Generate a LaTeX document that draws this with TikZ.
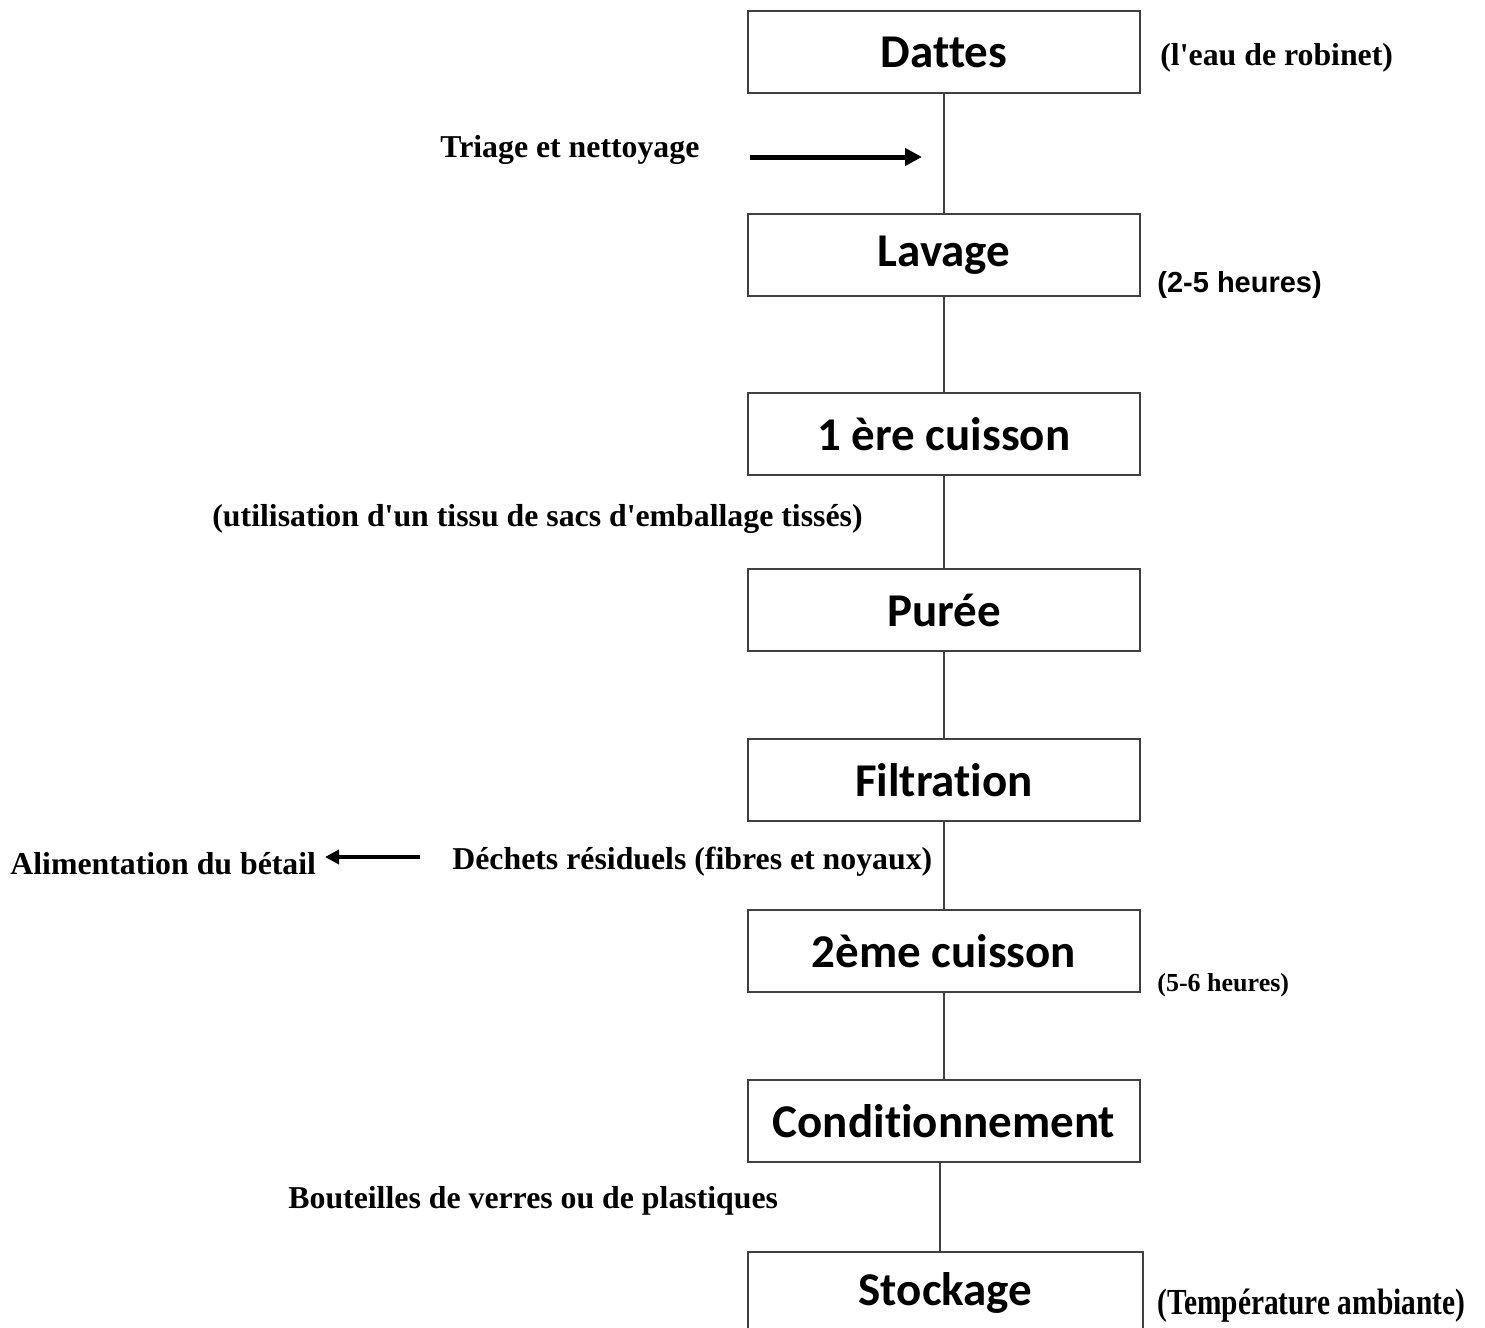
\documentclass[tikz,border=0pt]{standalone}
\usepackage{fontspec}
\setmainfont{Liberation Serif}
\newfontfamily\boxfont[Ligatures=NoCommon]{Carlito}
\newfontfamily\arialfont{Liberation Sans}
\usetikzlibrary{arrows.meta}

\begin{document}
\begin{tikzpicture}[x=0.5pt,y=-0.5pt,
  etape/.style={draw=black!75,line width=1pt,minimum width=196pt,minimum height=41pt,
    inner sep=0pt,font=\boxfont\bfseries\fontsize{23.5}{28}\selectfont},
  note/.style={anchor=west,inner sep=0pt,font=\bfseries\fontsize{15.9}{19}\selectfont},
  fleche/.style={line width=2.5pt,-{Triangle[length=8.5pt,width=8.5pt]}}]
\useasboundingbox (0,0) rectangle (1485,1328);
% les etapes
\node[etape] (dattes) at (944,52) {Dattes};
\node[etape] (lavage) at (944,255) {Lavage};
\node[etape] (cuisson1) at (944,434) {1 ère cuisson};
\node[etape] (puree) at (944,610) {Purée};
\node[etape] (filtration) at (944,780) {Filtration};
\node[etape] (cuisson2) at (944,951) {2ème cuisson};
\node[etape] (condit) at (944,1121) {Conditionnement};
\node[etape,minimum width=197.5pt] (stockage) at (945.5,1293) {Stockage};
\draw[line width=1pt,black!75] (dattes) -- (lavage);
\draw[line width=1pt,black!75] (lavage) -- (cuisson1);
\draw[line width=1pt,black!75] (cuisson1) -- (puree);
\draw[line width=1pt,black!75] (puree) -- (filtration);
\draw[line width=1pt,black!75] (filtration) -- (cuisson2);
\draw[line width=1pt,black!75] (cuisson2) -- (condit);
\draw[line width=1pt,black!75] (condit.south -| 940,0) -- (stockage.north -| 940,0);
% les notes
\node[note] (eau) at (1160,58) {(l\textquotesingle eau de robinet)};
\node[note] (triage) at (440,150) {Triage et nettoyage};
\node[note,font=\arialfont\bfseries\fontsize{14.5}{17}\selectfont] (duree1) at (1157,285) {(2-5 heures)};
\node[note] (tissu) at (212,519) {(utilisation d\textquotesingle un tissu de sacs d\textquotesingle emballage tissés)};
\node[note] (dechets) at (452,862) {Déchets résiduels (fibres et noyaux)};
\node[note] (alim) at (10,864) {Alimentation du bétail};
\node[note,font=\bfseries\fontsize{13}{16}\selectfont] (duree2) at (1157,985) {(5-6 heures)};
\node[note] (bouteilles) at (288,1201) {Bouteilles de verres ou de plastiques};
\node[note,font=\bfseries\fontsize{14.7}{18}\selectfont] (temp) at (1157,1306) {\scalebox{1}[1.25]{(Température ambiante)}};
% les fleches
\coordinate (t1) at (750,157);
\coordinate (t2) at (922,157);
\draw[fleche] (t1) -- (t2);
\coordinate (a1) at (420,857);
\coordinate (a2) at (325,857);
\draw[fleche,line width=2pt,-{Triangle[length=7pt,width=7pt]}] (a1) -- (a2);
\end{tikzpicture}
\end{document}
